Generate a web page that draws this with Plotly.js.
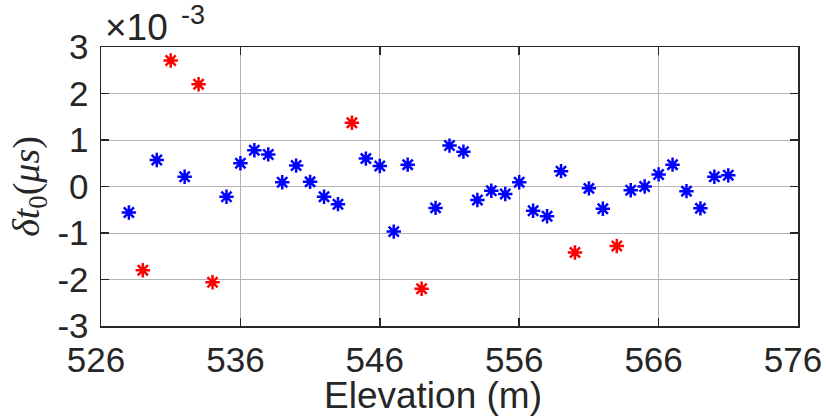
<!DOCTYPE html>
<html>
<head>
<meta charset="utf-8">
<script src="https://cdn.plot.ly/plotly-3.0.1.min.js"></script>
<style>html,body{margin:0;padding:0;background:#fff;}#chart{width:826px;height:420px;}</style>
</head>
<body>
<div id="chart"></div>
<script>
// Values in units of 1e-3 µs
const blueElev = [528,530,532,535,536,537,538,539,540,541,542,543,545,546,547,548,550,551,552,553,554,555,556,557,558,559,561,562,564,565,566,567,568,569,570,571];
const blueDt   = [-0.56,0.57,0.21,-0.22,0.50,0.78,0.69,0.09,0.45,0.10,-0.22,-0.38,0.60,0.44,-0.97,0.47,-0.46,0.88,0.75,-0.29,-0.09,-0.16,0.09,-0.52,-0.64,0.33,-0.04,-0.48,-0.08,0.00,0.26,0.47,-0.10,-0.47,0.21,0.24];
const redElev  = [529,531,533,534,544,549,560,563];
const redDt    = [-1.80,2.71,2.20,-2.06,1.37,-2.20,-1.42,-1.28];
const xTicks = [526,536,546,556,566,576];
const yTicks = [-3,-2,-1,0,1,2,3];
const yTickText = ['-3','-2','-1','0','1','2','3'];

const markerStyle = (c) => ({symbol:'asterisk-open', size:12, color:c, line:{color:c, width:2.5}});
const traces = [
  {x: blueElev, y: blueDt, mode:'markers', type:'scatter', marker: markerStyle('#0000ff'), hoverinfo:'x+y'},
  {x: redElev, y: redDt, mode:'markers', type:'scatter', marker: markerStyle('#ff0000'), hoverinfo:'x+y'}
];
const sans = 'Liberation Sans, Arial, sans-serif';
const tickFont = {family:sans, size:35, color:'#262626'};
const layout = {
  width:826, height:420,
  margin:{l:101, r:28, t:47, b:94, pad:0},
  paper_bgcolor:'#fff', plot_bgcolor:'#fff',
  showlegend:false,
  font: tickFont,
  xaxis:{
    range:[526,576], tickvals:xTicks, ticktext:xTicks.map(String),
    showgrid:true, gridcolor:'#b4b4b4', gridwidth:1, zeroline:false,
    showline:true, linecolor:'#262626', linewidth:1.5, mirror:'ticks',
    ticks:'inside', ticklen:8, tickcolor:'#262626', tickwidth:1.5,
    tickfont:tickFont, ticklabelstandoff:2, ticklabelshift:-5, ticklabeloverflow:'allow'
  },
  yaxis:{
    range:[-3,3], tickvals:yTicks, ticktext:yTickText,
    showgrid:true, gridcolor:'#b4b4b4', gridwidth:1, zeroline:false,
    showline:true, linecolor:'#262626', linewidth:1.5, mirror:'ticks',
    ticks:'inside', ticklen:8, tickcolor:'#262626', tickwidth:1.5,
    tickfont:tickFont, ticklabelstandoff:4,
    title:{text:'<i>δt</i><sub>0</sub>(<i>μs</i>)', font:{family:'Liberation Serif, DejaVu Serif, serif', size:38, color:'#262626'}, standoff:6}
  },
  annotations:[{
    xref:'paper', yref:'paper', x:0.4765, y:0, xanchor:'center', yanchor:'top',
    text:'Elevation (m)', showarrow:false,
    font:{family:sans, size:37, color:'#262626'},
    yshift:-47
  },{
    xref:'paper', yref:'paper', x:0, y:1, xanchor:'left', yanchor:'bottom',
    text:'×10', showarrow:false,
    font:{family:sans, size:37, color:'#262626'},
    xshift:2, yshift:-3
  },{
    xref:'paper', yref:'paper', x:0, y:1, xanchor:'left', yanchor:'bottom',
    text:'-3', showarrow:false,
    font:{family:sans, size:27, color:'#262626'},
    xshift:78, yshift:15
  }]
};
Plotly.newPlot('chart', traces, layout, {displayModeBar:false, staticPlot:true});
</script>
</body>
</html>
